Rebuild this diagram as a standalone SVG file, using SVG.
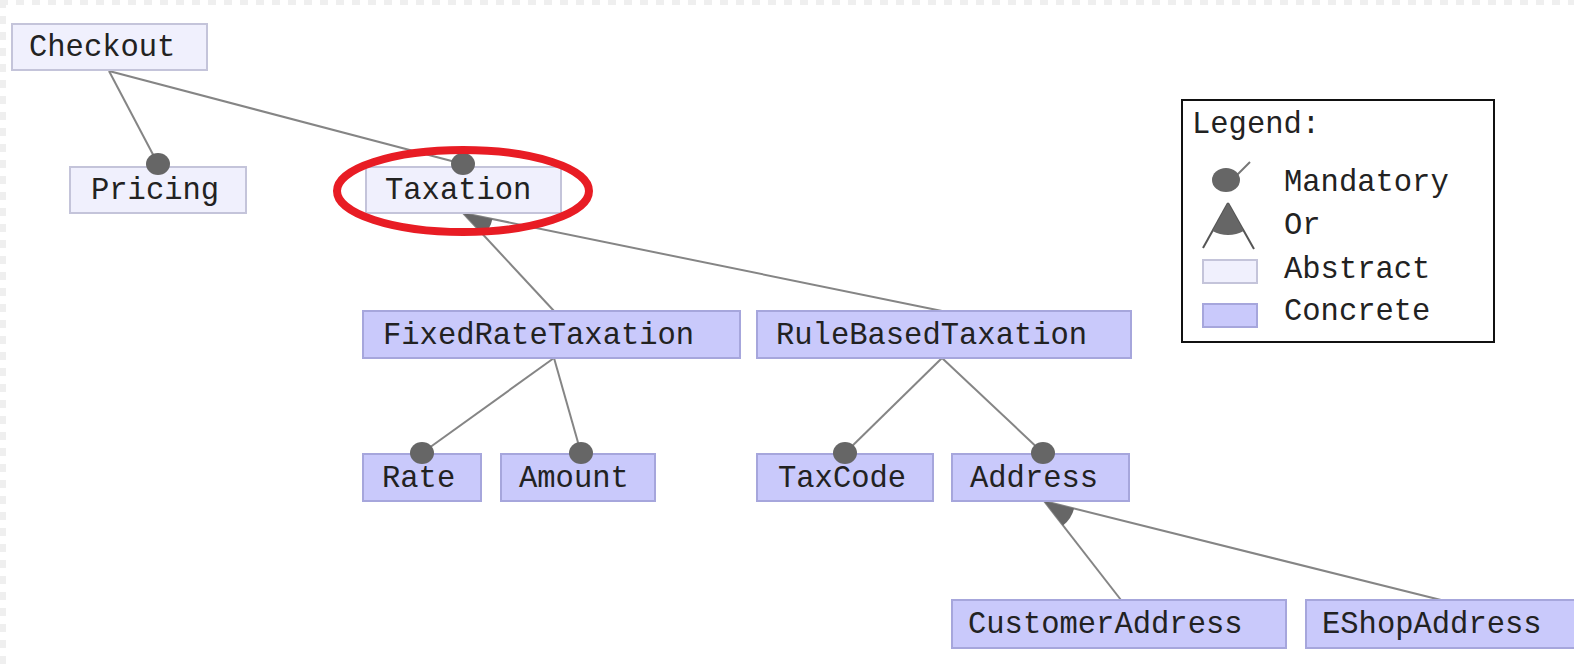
<svg xmlns="http://www.w3.org/2000/svg" width="1574" height="668" viewBox="0 0 1574 668">
<style>
  .abs { fill: #f0f0fd; stroke: #c4c4da; stroke-width: 2; }
  .con { fill: #c9c9fb; stroke: #a6a6dc; stroke-width: 2; }
  .lbl { font-family: "Liberation Mono", "DejaVu Sans Mono", monospace; font-size: 30.5px; fill: #222; }
  .edge { stroke: #858585; stroke-width: 2; fill: none; }
  .mand { fill: #666; }
  .orw { fill: #666; }
</style>
<rect x="0" y="0" width="1574" height="668" fill="#fff"/>
<g id="frame">
  <path d="M0,2.5 H1574" stroke="#efefef" stroke-width="5" stroke-dasharray="8 8"/>
  <path d="M3,0 V668" stroke="#efefef" stroke-width="6" stroke-dasharray="8 8"/>
</g>

<g id="connectors">
  <line class="edge" x1="109" y1="71" x2="158" y2="164"/>
  <line class="edge" x1="109" y1="71" x2="463" y2="164"/>
  <line class="edge" x1="463" y1="213" x2="554" y2="311"/>
  <line class="edge" x1="463" y1="213" x2="942" y2="311"/>
  <line class="edge" x1="554" y1="358" x2="422" y2="453"/>
  <line class="edge" x1="554" y1="358" x2="581" y2="453"/>
  <line class="edge" x1="942" y1="358" x2="845" y2="453"/>
  <line class="edge" x1="942" y1="358" x2="1043" y2="453"/>
  <line class="edge" x1="1044" y1="501" x2="1121" y2="600"/>
  <line class="edge" x1="1044" y1="501" x2="1441" y2="600"/>
  <path class="orw" d="M463,213 L483.4,235 A30,30 0 0 0 492.4,219 Z"/>
  <path class="orw" d="M1044,501 L1063,525.5 A31,31 0 0 0 1074.1,508.5 Z"/>
</g>

<g id="Checkout">
  <rect class="abs" x="12" y="24" width="195" height="46"/>
  <text class="lbl" x="29" y="56">Checkout</text>
</g>
<g id="Pricing">
  <rect class="abs" x="70" y="167" width="176" height="46"/>
  <text class="lbl" x="91" y="199">Pricing</text>
  <ellipse class="mand" cx="158" cy="164" rx="12" ry="11"/>
</g>
<g id="Taxation">
  <rect class="abs" x="366" y="167" width="195" height="46"/>
  <text class="lbl" x="385" y="199">Taxation</text>
  <ellipse class="mand" cx="463" cy="164" rx="12" ry="11"/>
</g>
<g id="FixedRateTaxation">
  <rect class="con" x="363" y="311" width="377" height="47"/>
  <text class="lbl" x="383" y="344">FixedRateTaxation</text>
</g>
<g id="RuleBasedTaxation">
  <rect class="con" x="757" y="311" width="374" height="47"/>
  <text class="lbl" x="776" y="344">RuleBasedTaxation</text>
</g>
<g id="Rate">
  <rect class="con" x="363" y="454" width="118" height="47"/>
  <text class="lbl" x="382" y="487">Rate</text>
  <ellipse class="mand" cx="422" cy="453" rx="12" ry="11"/>
</g>
<g id="Amount">
  <rect class="con" x="501" y="454" width="154" height="47"/>
  <text class="lbl" x="519" y="487">Amount</text>
  <ellipse class="mand" cx="581" cy="453" rx="12" ry="11"/>
</g>
<g id="TaxCode">
  <rect class="con" x="757" y="454" width="176" height="47"/>
  <text class="lbl" x="778" y="487">TaxCode</text>
  <ellipse class="mand" cx="845" cy="453" rx="12" ry="11"/>
</g>
<g id="Address">
  <rect class="con" x="952" y="454" width="177" height="47"/>
  <text class="lbl" x="970" y="487">Address</text>
  <ellipse class="mand" cx="1043" cy="453" rx="12" ry="11"/>
</g>
<g id="CustomerAddress">
  <rect class="con" x="952" y="600" width="334" height="48"/>
  <text class="lbl" x="968" y="633">CustomerAddress</text>
</g>
<g id="EShopAddress">
  <rect class="con" x="1306" y="600" width="280" height="48"/>
  <text class="lbl" x="1322" y="633">EShopAddress</text>
</g>

<g id="highlight">
  <ellipse cx="463" cy="191" rx="126" ry="41" fill="none" stroke="#e81c24" stroke-width="8"/>
</g>

<g id="legend">
  <rect x="1182" y="100" width="312" height="242" fill="#fff" stroke="#111" stroke-width="2"/>
  <text class="lbl" x="1192" y="133">Legend:</text>
  <line x1="1236" y1="176" x2="1250" y2="162" stroke="#777" stroke-width="2"/>
  <ellipse class="mand" cx="1226" cy="180" rx="14" ry="12"/>
  <text class="lbl" x="1284" y="191">Mandatory</text>
  <line x1="1228" y1="203" x2="1203" y2="248" stroke="#555" stroke-width="2"/>
  <line x1="1228" y1="203" x2="1254" y2="249" stroke="#555" stroke-width="2"/>
  <path class="orw" d="M1228,203 L1243.7,230.9 A32,32 0 0 1 1212.5,231 Z"/>
  <text class="lbl" x="1284" y="234">Or</text>
  <rect class="abs" x="1203" y="260" width="54" height="23"/>
  <text class="lbl" x="1284" y="278">Abstract</text>
  <rect class="con" x="1203" y="304" width="54" height="23"/>
  <text class="lbl" x="1284" y="320">Concrete</text>
</g>
</svg>
